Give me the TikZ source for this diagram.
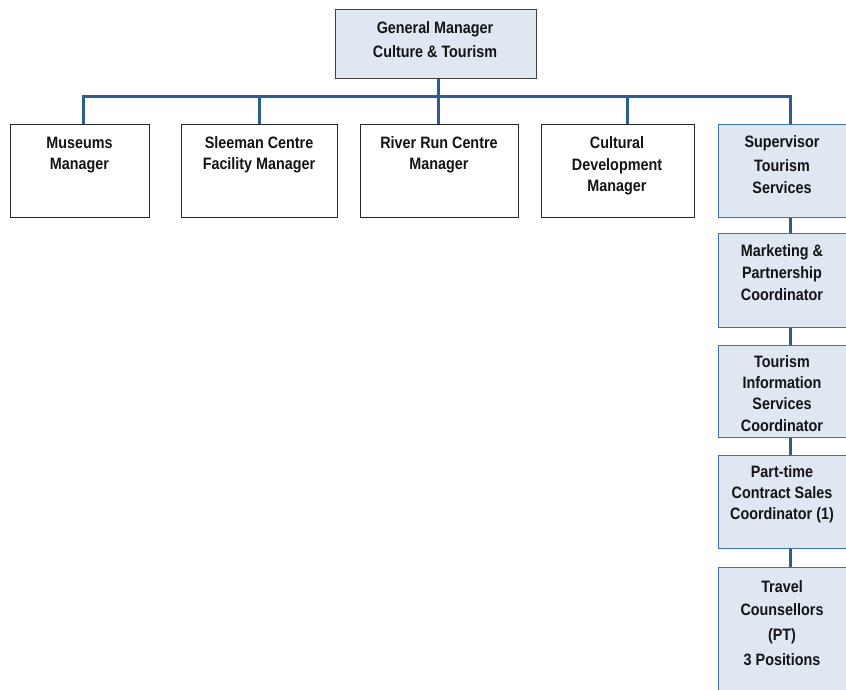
\documentclass[tikz,border=0pt]{standalone}
\usepackage{fontspec}
\setmainfont{Liberation Sans}[FakeStretch=0.87]
\definecolor{paleblue}{HTML}{DEE7F2}
\definecolor{boxblue}{HTML}{3F72AC}
\definecolor{linkblue}{HTML}{2D5D8F}
\definecolor{txt}{HTML}{141414}
\tikzset{
  plainbox/.style={draw=black!85, line width=1.2pt, fill=white, rectangle,
    anchor=north west, inner sep=0pt},
  topbox/.style={plainbox, draw=black!75, fill=paleblue},
  bluebox/.style={plainbox, draw=boxblue, fill=paleblue},
  lbl/.style={anchor=north, inner sep=0pt, align=center, text=txt,
    font=\fontsize{16.5}{21}\selectfont\bfseries},
  link/.style={draw=linkblue, line width=3pt},
  linkshadow/.style={draw=black!35, line width=3pt, opacity=0.5,
    shift={(1.5pt,1.5pt)}}
}
\newcommand{\toprule}{\rule{0pt}{12pt}}
\begin{document}
\begin{tikzpicture}[x=1pt,y=-1pt]
\path[use as bounding box] (0,0) rectangle (846,690);
\clip (0,0) rectangle (846,690);

% boxes
\node[topbox, minimum width=201pt, minimum height=69pt] (gm) at (335,9) {};
\node[plainbox, minimum width=139pt, minimum height=93pt] (mus) at (10,124) {};
\node[plainbox, minimum width=156pt, minimum height=93pt] (sle) at (181,124) {};
\node[plainbox, minimum width=158pt, minimum height=93pt] (riv) at (360,124) {};
\node[plainbox, minimum width=153pt, minimum height=93pt] (cul) at (541,124) {};
\node[bluebox, minimum width=132pt, minimum height=93pt] (sup) at (718,124) {};
\node[bluebox, minimum width=132pt, minimum height=94pt] (mkt) at (718,233) {};
\node[bluebox, minimum width=132pt, minimum height=92pt] (tis) at (718,345) {};
\node[bluebox, minimum width=132pt, minimum height=93pt] (pts) at (718,455) {};
\node[bluebox, minimum width=132pt, minimum height=140pt] (trv) at (718,567) {};

% connector points
\coordinate (bm) at (83,97);
\coordinate (bs) at (259,97);
\coordinate (br) at (438,97);
\coordinate (bc) at (627,97);
\coordinate (bt) at (790,97);
\coordinate (spine) at (790,0);

% connectors (shadow first, then the line)
\foreach \st in {linkshadow,link}{
  \path[\st] (gm.south -| br) -- (br);
  \path[\st] (bm |- mus.north) -- (bm) -- (bt) -- (bt |- sup.north);
  \path[\st] (bs) -- (bs |- sle.north);
  \path[\st] (br) -- (br |- riv.north);
  \path[\st] (bc) -- (bc |- cul.north);
  \path[\st] (sup.south -| spine) -- (mkt.north -| spine);
  \path[\st] (mkt.south -| spine) -- (tis.north -| spine);
  \path[\st] (tis.south -| spine) -- (pts.north -| spine);
  \path[\st] (pts.south -| spine) -- (trv.north -| spine);
}

% labels
\node[lbl] (tgm) at (435,21) {\toprule General Manager\\[3pt]Culture \& Tourism};
\node[lbl] (tmus) at (79.5,136) {\toprule Museums\\Manager};
\node[lbl] (tsle) at (259,136) {\toprule Sleeman Centre\\Facility Manager};
\node[lbl] (triv) at (439,136) {\toprule River Run Centre\\Manager};
\node[lbl] (tcul) at (617,136) {\toprule Cultural\\[1pt]Development\\Manager};
\node[lbl] (tsup) at (782,135) {\toprule Supervisor\\[3pt]Tourism\\[1pt]Services};
\node[lbl] (tmkt) at (782,244) {\toprule Marketing \&\\[1pt]Partnership\\[1pt]Coordinator};
\node[lbl] (ttis) at (782,355) {\toprule Tourism\\Information\\Services\\[1pt]Coordinator};
\node[lbl] (tpts) at (782,465) {\toprule Part-time\\Contract Sales\\Coordinator (1)};
\node[lbl] (ttrv) at (782,580) {\toprule Travel\\[2pt]Counsellors\\[4pt](PT)\\[4pt]3 Positions};
\end{tikzpicture}
\end{document}
